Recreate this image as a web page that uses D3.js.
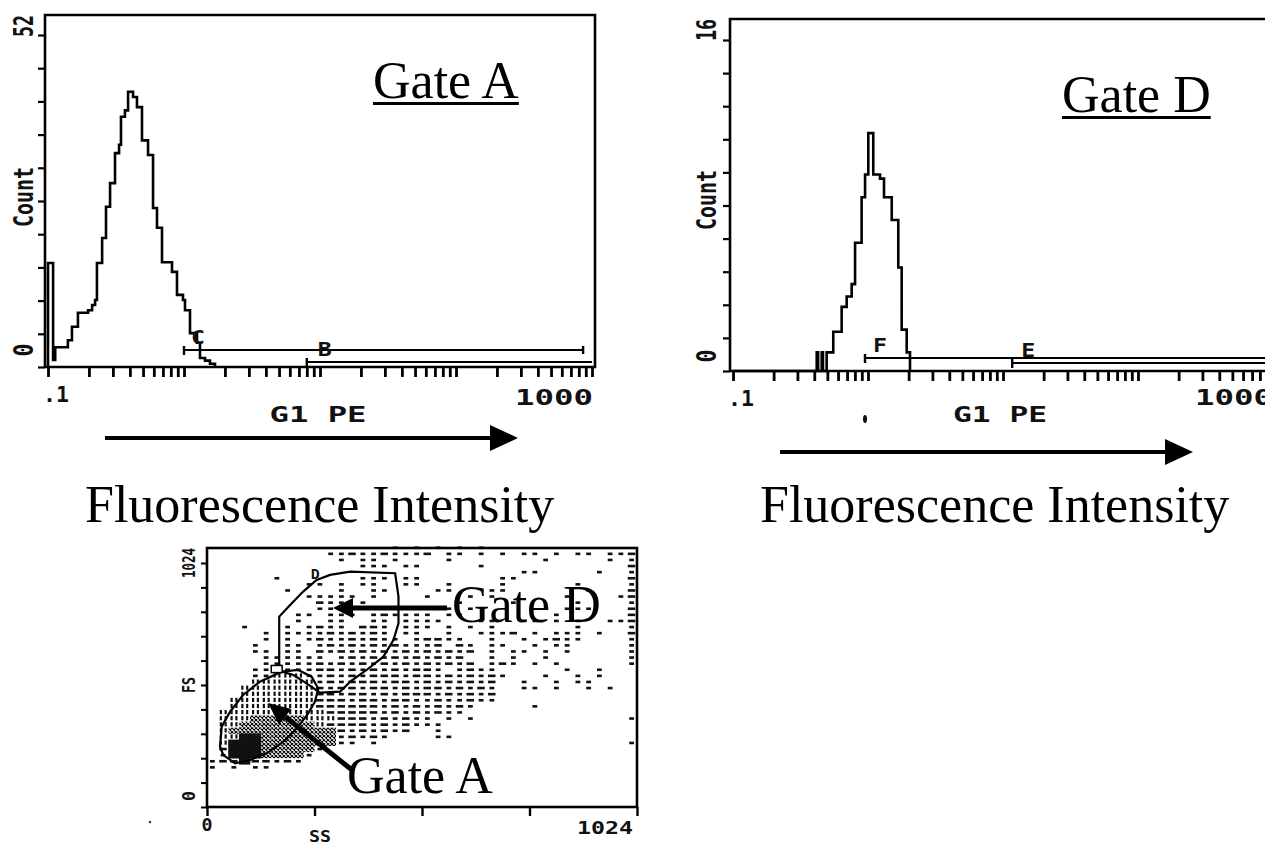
<!DOCTYPE html>
<html>
<head>
<meta charset="utf-8">
<script src="https://cdn.jsdelivr.net/npm/d3@7"></script>
<style>
  body { margin: 0; background: #fff; }
  svg { display: block; }
  .mono { font-family: 'DejaVu Sans Mono', monospace; font-weight: bold; fill: #111; }
  .serif { font-family: 'Liberation Serif', 'Times New Roman', serif; fill: #000; }
</style>
</head>
<body>
<svg id="chart" width="1265" height="846"></svg>
<script>
// Gate A histogram: G1 PE bin start -> count
const fluorA = [0.100, 0.109, 0.113, 0.140, 0.150, 0.166, 0.197, 0.211, 0.222, 0.229,
  0.250, 0.267, 0.286, 0.311, 0.333, 0.344, 0.368, 0.388, 0.422, 0.451,
  0.491, 0.544, 0.592, 0.633, 0.689, 0.816, 0.888, 0.983, 1.017, 1.107,
  1.246, 1.311, 1.427, 1.552, 1.690];
const countA = [16.3, 1.1, 3.1, 4.2, 6.3, 8.5, 8.9, 9.7, 10.5, 16.3,
  20.2, 25.1, 28.8, 33.5, 34.8, 39.2, 40.2, 43.1, 42.3, 40.7,
  35.5, 33.2, 24.9, 21.8, 16.4, 14.9, 11.3, 10.5, 8.9, 5.3,
  3.8, 1.4, 1.0, 0.5, 0];

// Gate D histogram
const fluorD = [0.1, 0.417, 0.427, 0.454, 0.464, 0.494, 0.553, 0.638, 0.695, 0.757,
  0.802, 0.897, 0.951, 1.005, 1.094, 1.227, 1.314, 1.499, 1.676, 1.776, 1.935, 2.047];
const countD = [0, 0.9, 0, 0.9, 0, 0.9, 1.9, 3.1, 3.6, 4.2,
  6.2, 8.4, 9.5, 11.5, 9.5, 9.3, 8.4, 7.3, 5.0, 2.0, 0.9, 0];

// analysis markers (intensity ranges)
const markerNamesA = ['C', 'B'];
const markerFromA = [1.0, 8.0];
const markerToA = [860, 1000];
const markerNamesD = ['F', 'E'];
const markerFromD = [0.95, 11.7];
const markerToD = [1000, 1000];

const countMaxA = 52;
const countMaxD = 16;

// FS vs SS dot plot, 25.6-channel cells, top row first
// ' ' empty, '.' one dot, ':' long dash, '=' dense, '#' hatched, '@' solid
const densityRows = [
  "          |       . .| . . .    |          ",
  "          | ..:..:...|: .. . . .|. . .. ..:",
  "          |  . .. .  |  .       | .     . .",
  "          |    ... ..|     .    |         :",
  "          |          |         .|.     .  .",
  "      .   |    ... ..|       .. |         :",
  "         .|. . ..  ..|  .    .  |    .    .",
  "       .  |  .  ..   | ..   ..  |     .   :",
  "         .|.... .    |.   . .   |   .    .:",
  "          |:.. .     |   .    . |    .    .",
  "          |..:.      |  . .     |   ...   :",
  "        ..| ... .:...|. ..      |  .      :",
  "        . | ..  .. ..|..   ..  .|. . .  ..:",
  "   .   . .|:.. ::. ..|. . . .   |    .    .",
  "     . ...|.:.:.:. ..|  .  ...: |. ... .  :",
  "     . . .|:..:.:.. .|::..  .  .| .:..    .",
  "    .  .. |.:.:.:.:..|.: :. ..  |. ..     .",
  "    .. .. |:.:.:.:.:.|:.:.: . ..| . .     .",
  "     .....|. .:.:.:.:|.:.:  . . | .       .",
  "     .....|:.:.:.:.:.|:.:.: .:. |. .      .",
  "    ......|::.:.:.:.:|:. .:..   |   .  .   ",
  "    ..===.|.:.:.:::.:|:.:.:.:.  | .  . .   ",
  "    ======|.:.:::.::.|:.:.:.:  .|  . ..    ",
  "   =======|:.::.::.:.|::.:.:.  .|. .  . .  ",
  "   =======|::.::.:.::|:.:.:.:   |          ",
  "  ========|:::.::.::.|.:..:..   |          ",
  "  ========|::::::.:.:|.:.:.     |.         ",
  " =========|=:::::.:.:|.:..      |          ",
  " ===#####=|==:::.:.:.|. . .     |         .",
  " ==#######|=::::.:.:.|..        |          ",
  " =########|##:.:.:.: | .        |          ",
  " ==@@#####|##.:.:.   | ..       |          ",
  " =@@@#####|##.. .    |          |         .",
  " :@@@#####|.         |          |          ",
  " .@@@####.|          |          |          ",
  ".::@::.:. |          |          |          ",
  ". . ..    |          |          |          ",
  "", "", "", "", "", ""
];
const cellSize = 25.6;

// gates, [SS, FS]
const gateA = [[31,253],[35,337],[55,400],[86,470],[126,526],[178,568],[217,575],[249,547],
  [265,497],[257,442],[241,393],[214,330],[182,274],[142,225],[102,197],[67,183],[39,218]];
const gateD = [[261,953],[293,974],[341,988],[448,981],[456,883],[456,771],[444,701],[420,631],
  [380,575],[341,526],[317,484],[269,480],[237,519],[206,554],[178,568],[172,602],[172,799],
  [198,848],[229,904]];
const scatterTicksX = [0, 256, 512, 768, 1024];

const svg = d3.select('#chart');

svg.append('defs').append('pattern')
  .attr('id', 'hatch')
  .attr('width', 4).attr('height', 4)
  .attr('patternUnits', 'userSpaceOnUse')
  .append('path')
  .attr('d', 'M0,4L4,0M0,0L4,4')
  .attr('stroke', '#000').attr('stroke-width', 1.1);

const logTicks = [];
for (let e = -1; e < 3; e++) {
  for (let m = 1; m < 10; m++) logTicks.push(m * Math.pow(10, e));
}
logTicks.push(1000);

function rotLabel(g, x, y, txt, len, size) {
  g.append('text').attr('class', 'mono')
    .attr('transform', 'translate(' + x + ',' + y + ') rotate(-90)')
    .attr('text-anchor', 'middle').attr('dy', '0.36em')
    .attr('font-size', size)
    .attr('textLength', len).attr('lengthAdjust', 'spacingAndGlyphs')
    .text(txt);
}

function label(g, x, y, txt, len, size, anchor) {
  g.append('text').attr('class', 'mono')
    .attr('x', x).attr('y', y)
    .attr('text-anchor', anchor || 'middle').attr('dy', '0.36em')
    .attr('font-size', size)
    .attr('textLength', len).attr('lengthAdjust', 'spacingAndGlyphs')
    .text(txt);
}

function drawHist(cfg) {
  const g = svg.append('g');
  const x = d3.scaleLog().domain([0.1, 1000]).range(cfg.xRange);
  const y = d3.scaleLinear().domain([0, cfg.yMax]).range(cfg.yRange);

  // frame
  g.append('path')
    .attr('d', 'M' + cfg.frame[0] + ',' + cfg.frame[3] + 'V' + cfg.frame[1] +
      'H' + cfg.frame[2] + 'V' + cfg.frame[3] + 'H' + cfg.frame[0])
    .attr('fill', 'none').attr('stroke', '#000').attr('stroke-width', 2.6);

  const xAxis = g.append('g')
    .attr('transform', 'translate(0,' + cfg.frame[3] + ')')
    .call(d3.axisBottom(x).tickValues(logTicks).tickSize(10).tickSizeOuter(0).tickFormat(''));
  xAxis.select('.domain').remove();
  xAxis.selectAll('line').attr('stroke', '#000').attr('stroke-width', 2.8);

  const yAxis = g.append('g')
    .attr('transform', 'translate(' + cfg.frame[0] + ',0)')
    .call(d3.axisLeft(y).tickValues(d3.range(11).map(i => i * cfg.yMax / 10))
      .tickSize(7).tickSizeOuter(0).tickFormat(''));
  yAxis.select('.domain').remove();
  yAxis.selectAll('line').attr('stroke', '#000').attr('stroke-width', 2.2);

  // histogram outline
  const pts = [[cfg.fluor[0], 0]].concat(cfg.fluor.map((f, i) => [f, cfg.counts[i]]));
  g.append('path')
    .attr('d', d3.line().x(d => x(d[0])).y(d => y(d[1])).curve(d3.curveStepAfter)(pts))
    .attr('fill', 'none').attr('stroke', '#000').attr('stroke-width', 2.6)
    .attr('stroke-linejoin', 'miter');

  // markers
  cfg.names.forEach((name, i) => {
    const ly = cfg.frame[3] - cfg.markerOffsets[i];
    const xa = x(cfg.from[i]), xb = x(cfg.to[i]);
    g.append('line').attr('x1', xa).attr('x2', xb).attr('y1', ly).attr('y2', ly)
      .attr('stroke', '#000').attr('stroke-width', 2);
    g.append('line').attr('x1', xa).attr('x2', xa).attr('y1', ly - 4).attr('y2', ly + 5)
      .attr('stroke', '#000').attr('stroke-width', 2.4);
    if (cfg.rightCaps[i]) {
      g.append('line').attr('x1', xb).attr('x2', xb).attr('y1', ly - 4).attr('y2', ly + 4)
        .attr('stroke', '#000').attr('stroke-width', 2.4);
    }
    label(g, xa + cfg.labelDx[i], ly - 13, name, 14, 19);
  });
  return { x, y, g };
}

const histA = drawHist({
  frame: [45, 15, 595, 367],
  xRange: [48, 592], yRange: [367, 35], yMax: countMaxA,
  fluor: fluorA, counts: countA,
  names: markerNamesA, from: markerFromA, to: markerToA,
  markerOffsets: [17, 5], rightCaps: [true, false], labelDx: [14, 18]
});
const histD = drawHist({
  frame: [730, 19, 1275, 371],
  xRange: [733, 1273], yRange: [371, 40], yMax: countMaxD,
  fluor: fluorD, counts: countD,
  names: markerNamesD, from: markerFromD, to: markerToD,
  markerOffsets: [13, 8], rightCaps: [false, false], labelDx: [15, 16]
});

// histogram text
rotLabel(histA.g, 23, 26, '52', 22, 27);
rotLabel(histA.g, 23, 197, 'Count', 60, 27);
rotLabel(histA.g, 23, 350, '0', 13, 27);
label(histA.g, 56, 394, '.1', 26, 22);
label(histA.g, 554, 397, '1000', 78, 22);
label(histA.g, 318, 414, 'G1 PE', 97, 22);

rotLabel(histD.g, 706, 30, '16', 22, 27);
rotLabel(histD.g, 706, 200, 'Count', 60, 27);
rotLabel(histD.g, 706, 356, '0', 13, 27);
label(histD.g, 741, 398, '.1', 26, 22);
label(histD.g, 1195, 397, '1000', 78, 22, 'start');
label(histD.g, 1000, 414, 'G1 PE', 94, 22);
histD.g.append('ellipse').attr('cx', 865).attr('cy', 419).attr('rx', 2).attr('ry', 4).attr('fill', '#111');

// Gate titles
function serifText(x, y, txt, underline) {
  const t = svg.append('text').attr('class', 'serif')
    .attr('x', x).attr('y', y).attr('font-size', 52).text(txt);
  if (underline) {
    const w = t.node().getComputedTextLength();
    svg.append('line').attr('x1', x).attr('x2', x + w)
      .attr('y1', y + 5.5).attr('y2', y + 5.5)
      .attr('stroke', '#000').attr('stroke-width', 3);
  }
}
serifText(373, 98, 'Gate A', true);
serifText(1062, 112, 'Gate D', true);
serifText(85, 522, 'Fluorescence Intensity');
serifText(760, 522, 'Fluorescence Intensity');

function arrow(x1, y1, x2, y2, w, headL, headW) {
  const a = Math.atan2(y2 - y1, x2 - x1);
  const bx = x2 - headL * Math.cos(a), by = y2 - headL * Math.sin(a);
  svg.append('line').attr('x1', x1).attr('y1', y1).attr('x2', bx).attr('y2', by)
    .attr('stroke', '#000').attr('stroke-width', w);
  const nx = -Math.sin(a) * headW / 2, ny = Math.cos(a) * headW / 2;
  svg.append('path')
    .attr('d', 'M' + x2 + ',' + y2 + 'L' + (bx + nx) + ',' + (by + ny) + 'L' + (bx - nx) + ',' + (by - ny) + 'Z')
    .attr('fill', '#000');
}
arrow(105, 438, 518, 438, 4, 28, 26);
arrow(780, 452, 1193, 452, 4, 28, 26);

// ---- scatter FS vs SS ----
const sx = d3.scaleLinear().domain([0, 1024]).range([207, 637]);
const sy = d3.scaleLinear().domain([0, 1024]).range([807, 563]);
const sg = svg.append('g');

const cells = [];
densityRows.forEach((row, i) => {
  const r = densityRows.length - 1 - i;
  row.replace(/\|/g, '').split('').forEach((ch, c) => {
    if (ch !== ' ') cells.push({ c, r, ch });
  });
});
const cw = sx(cellSize) - sx(0), ch = sy(0) - sy(cellSize);
const dots = sg.append('g');
cells.forEach(d => {
  const x0 = sx(d.c * cellSize), y0 = sy((d.r + 1) * cellSize);
  const cy = y0 + ch / 2;
  if (d.ch === '.') {
    dots.append('rect').attr('x', x0 + cw / 2 - 2.4).attr('y', cy - 1.3).attr('width', 4.8).attr('height', 2.6);
  } else if (d.ch === ':') {
    dots.append('rect').attr('x', x0 + 1.5).attr('y', cy - 1.3).attr('width', 7.5).attr('height', 2.6);
  } else if (d.ch === '=') {
    [2, 6.8].forEach(dx => {
      dots.append('rect').attr('x', x0 + dx).attr('y', y0 + 0.6).attr('width', 2.2).attr('height', 4.2);
    });
  } else if (d.ch === '#') {
    dots.append('rect').attr('x', x0).attr('y', y0).attr('width', cw).attr('height', ch)
      .attr('fill', 'url(#hatch)');
  } else if (d.ch === '@') {
    dots.append('rect').attr('x', x0 - 0.3).attr('y', y0 - 0.3).attr('width', cw + 0.6).attr('height', ch + 0.6);
  }
});
dots.selectAll('rect:not([fill])').attr('fill', '#111');

// frame and ticks
sg.append('rect').attr('x', 207).attr('y', 548).attr('width', 430).attr('height', 259)
  .attr('fill', 'none').attr('stroke', '#000').attr('stroke-width', 2.6);
const sxa = sg.append('g').attr('transform', 'translate(0,807)')
  .call(d3.axisBottom(sx).tickValues(scatterTicksX).tickSize(9).tickSizeOuter(0).tickFormat(''));
sxa.select('.domain').remove();
sxa.selectAll('line').attr('stroke', '#000').attr('stroke-width', 2.4);
const sya = sg.append('g').attr('transform', 'translate(207,0)')
  .call(d3.axisLeft(sy).tickValues(d3.range(11).map(i => i * 102.4)).tickSize(6).tickSizeOuter(0).tickFormat(''));
sya.select('.domain').remove();
sya.selectAll('line').attr('stroke', '#000').attr('stroke-width', 2);

// gates
const gateLine = d3.line().x(d => sx(d[0])).y(d => sy(d[1])).curve(d3.curveLinearClosed);
sg.append('path').attr('d', gateLine(gateA)).attr('fill', 'none').attr('stroke', '#000').attr('stroke-width', 2.2);
sg.append('path').attr('d', gateLine(gateD)).attr('fill', 'none').attr('stroke', '#000').attr('stroke-width', 2.2);
sg.append('rect').attr('x', sx(153)).attr('y', sy(594)).attr('width', sx(179) - sx(153)).attr('height', sy(564) - sy(594))
  .attr('fill', '#fff').attr('stroke', '#000').attr('stroke-width', 1.5);
label(sg, sx(258), sy(953) - 6, 'D', 9, 14);

rotLabel(sg, 189, 563, '1024', 30, 18);
rotLabel(sg, 189, 685, 'FS', 16, 18);
rotLabel(sg, 189, 796, '0', 10, 18);
label(sg, 207, 825, '0', 11, 17);
label(sg, 605, 828, '1024', 56, 17);
label(sg, 320, 837, 'SS', 22, 15);
sg.append('circle').attr('cx', 150).attr('cy', 822).attr('r', 1.2).attr('fill', '#333');

arrow(447, 608, 333, 608, 5, 20, 20);
arrow(352, 770, 268, 703, 5, 22, 20);
serifText(452, 622, 'Gate D');
serifText(347, 793, 'Gate A');
</script>
</body>
</html>
